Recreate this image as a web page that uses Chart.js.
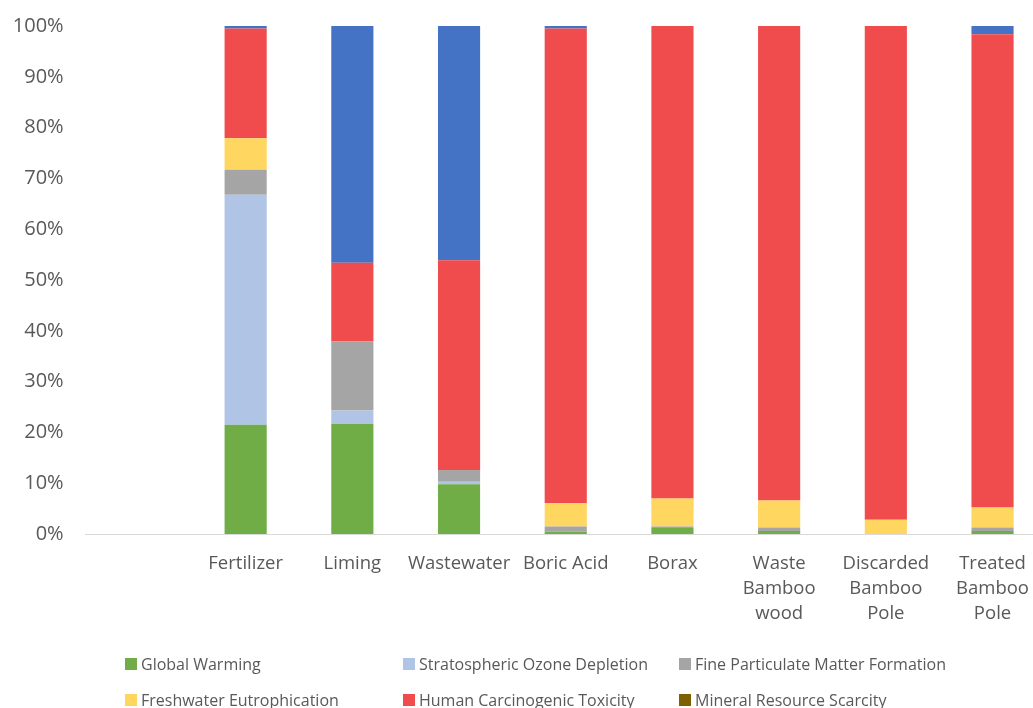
<!DOCTYPE html>
<html>
<head>
<meta charset="utf-8">
<script src="https://cdn.jsdelivr.net/npm/chart.js@4.4.1/dist/chart.umd.min.js"></script>
<style>
  html, body { margin: 0; padding: 0; background: #fff; overflow: hidden; }
  #wrap { position: relative; width: 1046px; height: 708px; }
  #impactLegend {
    position: absolute; left: 125px; top: 652px;
    display: grid; grid-template-columns: 278px 276px 330px; row-gap: 12px;
    font-family: "Open Sans", sans-serif; font-size: 16px; color: #595959;
  }
  #impactLegend .item { display: flex; align-items: center; height: 24px; white-space: nowrap; }
  #impactLegend .box { width: 12px; height: 12px; margin-right: 4px; }
</style>
</head>
<body>
<div id="wrap">
  <canvas id="impactChart" width="1046" height="708"></canvas>
  <div id="impactLegend"></div>
</div>
<script>
const categories = ['', 'Fertilizer', 'Liming', 'Wastewater', 'Boric Acid', 'Borax',
  ['Waste', 'Bamboo', 'wood'], ['Discarded', 'Bamboo', 'Pole'], ['Treated', 'Bamboo', 'Pole']];

// share of each impact category per process, in %
const globalWarming     = [null, 21.5, 21.7,  9.8, 0.5, 1.2, 0.6, 0.0, 0.6];
const ozoneDepletion    = [null, 45.3,  2.6,  0.5, 0.0, 0.0, 0.0, 0.0, 0.0];
const particulateMatter = [null,  4.9, 13.6,  2.3, 1.0, 0.3, 0.7, 0.0, 0.7];
const eutrophication    = [null,  6.2,  0.0,  0.0, 4.6, 5.5, 5.3, 2.8, 3.9];
const carcinogenicTox   = [null, 21.6, 15.5, 41.3, 93.4, 93.0, 93.4, 97.2, 93.2];
const mineralScarcity   = [null,  0.0,  0.0,  0.0, 0.0, 0.0, 0.0, 0.0, 0.0];
const otherImpacts      = [null,  0.5, 46.6, 46.1, 0.5, 0.0, 0.0, 0.0, 1.6];

const yTicks = [0, 10, 20, 30, 40, 50, 60, 70, 80, 90, 100];

const series = [
  { label: 'Global Warming', data: globalWarming, color: '#70AD47' },
  { label: 'Stratospheric Ozone Depletion', data: ozoneDepletion, color: '#B0C4E6' },
  { label: 'Fine Particulate Matter Formation', data: particulateMatter, color: '#A5A5A5' },
  { label: 'Freshwater Eutrophication', data: eutrophication, color: '#FFD65F' },
  { label: 'Human Carcinogenic Toxicity', data: carcinogenicTox, color: '#F04B4D' },
  { label: 'Mineral Resource Scarcity', data: mineralScarcity, color: '#7F6000' },
  { label: 'Other', data: otherImpacts, color: '#4472C4', hidden: true }
];

const ctx = document.getElementById('impactChart').getContext('2d');

const chart = new Chart(ctx, {
  type: 'bar',
  data: {
    labels: categories,
    datasets: series.map(s => ({
      label: s.label,
      data: s.data,
      backgroundColor: s.color,
      borderWidth: 0,
      barPercentage: 0.395,
      categoryPercentage: 1,
      inLegend: !s.hidden
    }))
  },
  options: {
    responsive: false,
    animation: false,
    layout: { padding: { left: 0, right: 0, top: 26, bottom: 74 } },
    plugins: {
      legend: { display: false },
      tooltip: { enabled: false }
    },
    scales: {
      x: {
        stacked: true,
        grid: { display: false, drawTicks: false },
        border: { display: true, color: '#D9D9D9', width: 1 },
        ticks: {
          padding: 17,
          maxRotation: 0,
          autoSkip: false,
          color: '#595959',
          font: { family: 'Open Sans', size: 18.5, lineHeight: 25 / 18.5 }
        },
        afterFit: scale => { scale.height = 100; }
      },
      y: {
        stacked: true,
        min: 0,
        max: 100,
        grid: { display: false, drawTicks: false },
        border: { display: false },
        afterBuildTicks: scale => { scale.ticks = yTicks.map(v => ({ value: v })); },
        ticks: {
          padding: 22,
          color: '#595959',
          font: { family: 'Open Sans', size: 20 },
          callback: v => v + '%'
        },
        // fixed axis width; the top label may overhang the plot area
        afterFit: scale => {
          scale.width = 85.6;
          scale.paddingTop = 0;
          scale.paddingBottom = 0;
        }
      }
    }
  }
});

// legend laid out as a three-column grid
const legendEl = document.getElementById('impactLegend');
chart.data.datasets.filter(d => d.inLegend).forEach(d => {
  const item = document.createElement('div');
  item.className = 'item';
  const box = document.createElement('span');
  box.className = 'box';
  box.style.background = d.backgroundColor;
  const text = document.createElement('span');
  text.textContent = d.label;
  item.appendChild(box);
  item.appendChild(text);
  legendEl.appendChild(item);
});
</script>
</body>
</html>
